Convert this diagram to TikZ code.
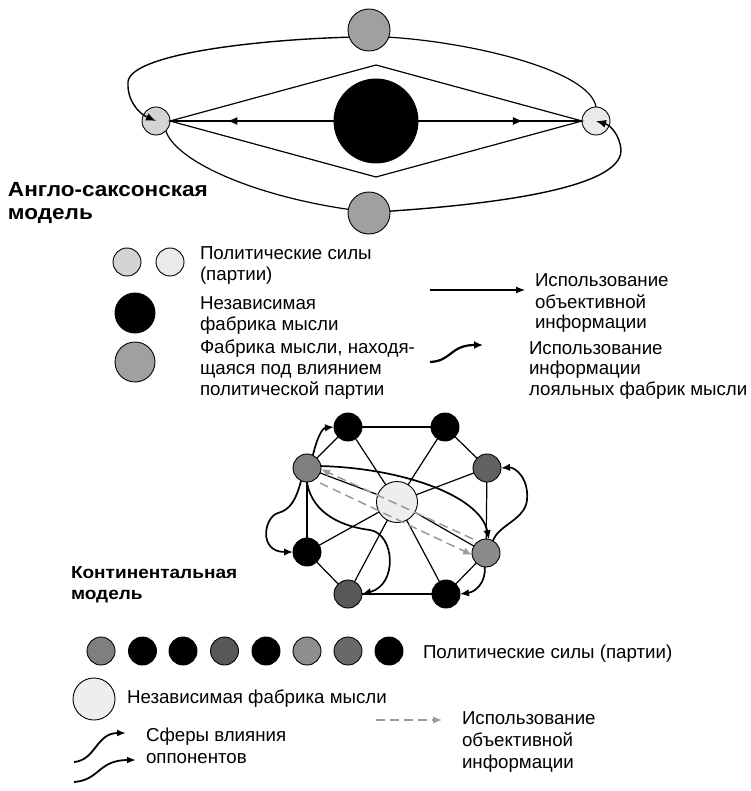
\documentclass[tikz,border=0pt]{standalone}
\usepackage{fontspec}
\setmainfont{Liberation Sans}
\newfontfamily\lblfont[FakeStretch=1.1]{Liberation Sans}
\usetikzlibrary{arrows.meta,decorations.markings}
\definecolor{midgray}{HTML}{A0A0A0}
\definecolor{lgA}{HTML}{D4D4D4}
\definecolor{lgB}{HTML}{EAEAEA}
\definecolor{cgA}{HTML}{7F7F7F}
\definecolor{cgB}{HTML}{616161}
\definecolor{cgC}{HTML}{8A8A8A}
\definecolor{cgD}{HTML}{585858}
\definecolor{cgE}{HTML}{696969}
\definecolor{cgF}{HTML}{8E8E8E}
\definecolor{ctr}{HTML}{EEEEEE}
\definecolor{dashgray}{HTML}{9A9A9A}
\begin{document}
\begin{tikzpicture}[x=1pt,y=-1pt,
  every node/.style={inner sep=0pt,outer sep=0pt},
  ball/.style={circle,draw=black,line width=0.9pt,inner sep=0pt,minimum size=28pt},
  edge/.style={line width=1.2pt},
  curve/.style={line width=1.4pt,-{Latex[length=10pt,width=8pt]}},
  thick curve/.style={line width=1.7pt,-{Latex[length=9pt,width=7.5pt]}},
  dasharrow/.style={draw=dashgray,line width=1.5pt,dash pattern=on 9pt off 5pt,-{Latex[length=9pt,width=7.5pt]}},
  txt/.style={font=\fontsize{18.7}{22}\selectfont,anchor=base west},
  lbl/.style={font=\lblfont\bfseries\fontsize{20.5}{23}\selectfont,anchor=base west},
  clbl/.style={font=\lblfont\bfseries\fontsize{17.3}{21}\selectfont,anchor=base west},
  midarrow/.style={postaction={decorate},decoration={markings,mark=at position #1 with {\arrow{Latex[length=10pt,width=8pt]}}}}
]
\useasboundingbox (0,0) rectangle (750,791);

% ---------------- Anglo-Saxon model ----------------
\node[ball,minimum size=42pt,fill=midgray] (TG) at (369,30) {};
\node[ball,minimum size=42pt,fill=midgray] (BG) at (369,213) {};
\node[ball,minimum size=84pt,fill=black] (TB) at (376,121) {};
\node[ball,fill=lgA] (L) at (156,121) {};
\node[ball,fill=lgB] (R) at (596,121) {};
\coordinate (DT) at (376,65);
\coordinate (DB) at (376,177);
\draw[edge] (L.east) -- (DT) -- (R.west) -- (DB) -- cycle;
\draw[edge,midarrow=0.65] (TB.west) -- (L.east);
\draw[edge,midarrow=0.64] (TB.east) -- (R.west);
\draw[curve] (TG.200) .. controls (250,40) and (130,55) .. (128,82) .. controls (127,100) and (138,113) .. (L.center);
\draw[edge] (TG.-20) .. controls (470,42) and (590,70) .. (R.north);
\draw[edge] (L.-45) .. controls (175,160) and (250,195) .. (BG.170);
\draw[curve] (BG.5) .. controls (480,205) and (622,190) .. (621,150) .. controls (620,135) and (610,125) .. (R.center);

\node[lbl] (asA) at (8,197) {Англо-саксонская};
\node[lbl] (asB) at (8,220) {модель};

% ---------------- Legend 1 ----------------
\node[ball,fill=lgA] (k1) at (127,262) {};
\node[ball,fill=lgB] (k2) at (170,262) {};
\node[ball,minimum size=40pt,fill=black] (k3) at (135,313) {};
\node[ball,minimum size=40pt,fill=midgray] (k4) at (135,362) {};
\node[txt] (l1a) at (200,259) {Политические силы};
\node[txt] (l1b) at (200,280) {(партии)};
\node[txt] (l2a) at (200,309) {Независимая};
\node[txt] (l2b) at (200,330) {фабрика мысли};
\node[txt] (l3a) at (200,353) {Фабрика мысли, находя-};
\node[txt] (l3b) at (200,374) {щаяся под влиянием};
\node[txt] (l3c) at (200,395) {политической партии};
\coordinate (a1s) at (430,290);
\coordinate (a1e) at (525,290);
\draw[line width=1.2pt,-{Latex[length=9pt,width=7pt]}] (a1s) -- (a1e);
\node[txt] (r1a) at (535,287) {Использование};
\node[txt] (r1b) at (535,308) {объективной};
\node[txt] (r1c) at (535,328) {информации};
\coordinate (a2s) at (430,362);
\coordinate (a2e) at (483,345);
\draw[line width=2.2pt,-{Latex[length=9pt,width=8pt]}] (a2s) .. controls (452,361) and (450,345) .. (a2e);
\node[txt] (r2a) at (529,354) {Использование};
\node[txt] (r2b) at (529,374) {информации};
\node[txt] (r2c) at (529,395) {лояльных фабрик мысли};

% ---------------- Continental model ----------------
\node[ball,fill=black] (TL) at (348,427) {};
\node[ball,fill=black] (TR) at (445,427) {};
\node[ball,fill=cgA] (LG) at (307,468) {};
\node[ball,fill=cgB] (RD) at (487,468) {};
\node[ball,minimum size=41pt,fill=ctr] (C) at (397,502) {};
\node[ball,fill=black] (LB) at (307,552) {};
\node[ball,fill=cgC] (RG) at (486,553) {};
\node[ball,fill=cgD] (BL) at (348,594) {};
\node[ball,fill=black] (BR) at (446,594) {};

\draw[edge] (TL) -- (TR);
\draw[edge] (TL) -- (LG);
\draw[edge] (TL) -- (C);
\draw[edge] (TR) -- (C);
\draw[edge] (TR) -- (RD);
\draw[edge] (LG) -- (C);
\draw[edge] (RD) -- (C);
\draw[edge] (LG) -- (LB);
\draw[edge] (RD) -- (RG);
\draw[edge] (LB) -- (C);
\draw[edge] (RG) -- (C);
\draw[edge] (BL) -- (C);
\draw[edge] (BR) -- (C);
\draw[edge] (LB) -- (BL);
\draw[edge] (RG) -- (BR);
\draw[edge] (BL) -- (BR);

\coordinate (dU) at (473,539);
\coordinate (dL) at (320,483);
\draw[dasharrow] (dU) -- (LG.-5);
\draw[dasharrow] (dL) -- (RG.188);

\draw[thick curve] (LG.65) .. controls (317,438) and (322,428) .. (TL.west);
\draw[thick curve] (LG.245) .. controls (296,500) and (290,510) .. (278,513) .. controls (264,517) and (258,552) .. (LB.west);
\draw[thick curve] (LG.south) .. controls (312,515) and (345,527) .. (370,530) .. controls (395,534) and (398,585) .. (BL.east);
\draw[thick curve] (LG.8) .. controls (400,468) and (480,495) .. (RG.78);
\draw[thick curve] (RG.60) .. controls (498,525) and (525,520) .. (527,500) .. controls (529,478) and (515,467) .. (RD.east);
\draw[thick curve] (RG.-95) .. controls (486,583) and (475,592) .. (BR.east);

\node[clbl] (cmA) at (71,578) {Континентальная};
\node[clbl] (cmB) at (71,599) {модель};

% ---------------- Legend 2 ----------------
\node[ball,fill=cgA] (p1) at (101,651) {};
\node[ball,fill=black] (p2) at (142.5,651) {};
\node[ball,fill=black] (p3) at (183,651) {};
\node[ball,fill=cgD] (p4) at (224.5,651) {};
\node[ball,fill=black] (p5) at (266,651) {};
\node[ball,fill=cgF] (p6) at (307,651) {};
\node[ball,fill=cgE] (p7) at (348,651) {};
\node[ball,fill=black] (p8) at (389,651) {};
\node[txt] (m1) at (423,658) {Политические силы (партии)};
\node[ball,minimum size=42pt,fill=ctr] (pc) at (94,699) {};
\node[txt] (m2) at (127,703) {Независимая фабрика мысли};
\coordinate (d2s) at (376,720);
\coordinate (d2e) at (442,720);
\draw[dasharrow] (d2s) -- (d2e);
\node[txt] (m3a) at (462,724) {Использование};
\node[txt] (m3b) at (462,746) {объективной};
\node[txt] (m3c) at (462,768) {информации};
\coordinate (s1s) at (74,762);
\coordinate (s1e) at (126,733);
\coordinate (s2s) at (74,782);
\coordinate (s2e) at (136,760);
\draw[line width=1.8pt,-{Latex[length=9pt,width=7pt]}] (s1s) .. controls (96,760) and (96,733) .. (s1e);
\draw[line width=1.8pt,-{Latex[length=9pt,width=7pt]}] (s2s) .. controls (100,780) and (98,760) .. (s2e);
\node[txt] (m4a) at (146,741) {Сферы влияния};
\node[txt] (m4b) at (146,763) {оппонентов};
\end{tikzpicture}
\end{document}
